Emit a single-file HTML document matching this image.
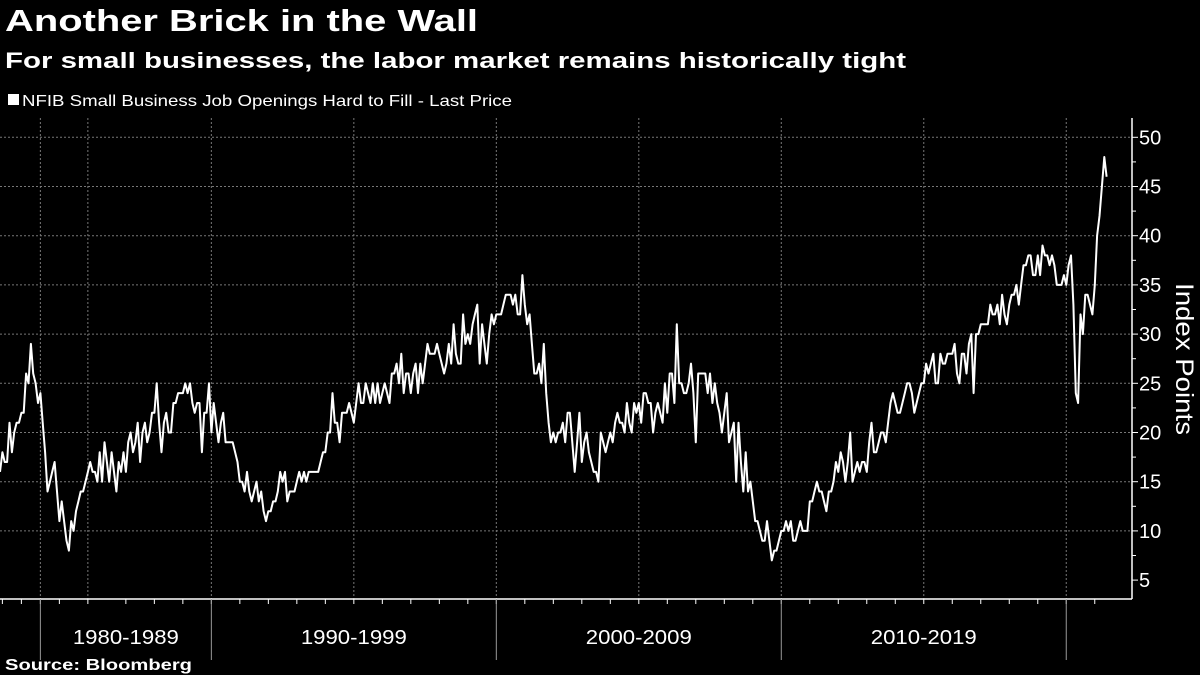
<!DOCTYPE html>
<html><head><meta charset="utf-8"><style>
body{margin:0;background:#000;width:1200px;height:675px;overflow:hidden;font-family:"Liberation Sans",sans-serif;color:#fff}
svg{display:block}
</style></head><body>
<svg id="chart" width="1200" height="675">
<text x="5" y="31" font-size="31" font-weight="bold" fill="#fff" textLength="473" lengthAdjust="spacingAndGlyphs">Another Brick in the Wall</text>
<text x="5" y="68" font-size="22" font-weight="bold" fill="#fff" textLength="901" lengthAdjust="spacingAndGlyphs">For small businesses, the labor market remains historically tight</text>
<rect x="8" y="94" width="11" height="11" fill="#fff"/>
<text x="22" y="106" font-size="16" fill="#fff" textLength="490" lengthAdjust="spacingAndGlyphs">NFIB Small Business Job Openings Hard to Fill - Last Price</text>
<g id="grid"></g><g id="axes"></g>
<path id="line" fill="none" stroke="#fff" stroke-width="2" stroke-linejoin="round"/>
<text transform="translate(1176,359) rotate(90)" text-anchor="middle" font-size="25" fill="#fff" textLength="152" lengthAdjust="spacingAndGlyphs">Index Points</text>
<text x="5" y="670" font-size="16" font-weight="bold" fill="#fff" textLength="187" lengthAdjust="spacingAndGlyphs">Source: Bloomberg</text>
</svg>
<script>
const values=[16,18,17,17,21,18,20,21,21,22,22,26,25,29,26,25,23,24,21,18,14,15,16,17,14,11,13,11,9,8,11,10,12,13,14,14,15,16,17,16,16,15,18,15,19,17,15,18,16,14,17,16,18,16,19,20,18,19,21,17,20,21,19,20,22,22,25,21,18,21,22,20,20,23,23,24,24,24,25,24,25,23,22,23,23,18,22,22,25,20,23,21,19,21,22,19,19,19,19,18,17,15,15,14,16,14,13,14,15,13,14,12,11,12,12,13,13,14,16,15,16,13,14,14,14,15,16,
15,16,15,16,16,16,16,16,17,18,18,20,20,24,21,21,19,22,22,22,23,22,21,23,25,23,23,25,24,23,25,23,25,23,24,25,24,23,26,26,27,25,28,24,26,26,24,26,27,24,27,25,27,29,28,28,28,29,28,27,26,27,29,27,31,28,27,27,32,29,30,29,31,32,33,27,31,29,27,30,32,31,32,32,32,33,34,34,34,33,34,32,32,36,33,31,32,29,26,26,27,25,29,24,21,19,20,19,20,20,21,19,22,22,19,16,19,22,17,19,20,18,
17,16,16,15,20,19,18,19,20,19,21,22,21,21,20,23,21,20,23,22,23,21,24,24,23,23,20,22,23,22,21,25,22,26,26,23,31,25,25,24,24,25,27,24,19,26,26,26,26,24,26,23,25,23,22,20,22,24,19,20,21,15,21,17,14,18,14,15,13,11,11,10,9,9,11,9,7,8,8,9,10,10,11,10,11,9,9,10,11,10,10,10,13,13,14,15,14,14,13,12,14,14,15,17,16,18,17,15,17,20,15,16,17,16,17,17,16,19,21,18,18,19,
20,20,19,21,23,24,23,22,22,23,24,25,25,24,22,23,24,25,25,27,26,27,28,25,25,28,27,27,28,28,28,29,26,25,28,28,26,29,30,24,30,30,31,31,31,31,33,32,32,33,31,34,32,31,33,34,34,35,33,35,37,37,38,38,36,36,38,36,39,38,38,37,38,37,35,35,35,36,35,37,38,33,24,23,32,30,34,34,33,32,35,40,42,45,48,46];
const yTicks=[5,10,15,20,25,30,35,40,45,50];
const decadeLabels=['1980-1989','1990-1999','2000-2009','2010-2019'];
const decadeIdx=[17,89,209,329,449];
const gridIdx=[17,37,89,149,209,269,329,389,449];
const yearTickIdx=[1,9,17,25,37,53,65,77,89,101,113,125,137,149,161,173,185,197,209,221,233,245,257,269,281,293,305,317,329,341,353,365,377,389,401,413,425,437,449,461];
const NS='http://www.w3.org/2000/svg';
const X0=0,X1=1109,PT=118,PB=599,AX=1132;
const xs=i=>X0+(X1-X0)*i/467;
const ys=v=>137.3+(50-v)*9.84;
const grid=document.getElementById('grid'),axes=document.getElementById('axes');
function mk(tag,attrs,parent){const e=document.createElementNS(NS,tag);for(const k in attrs)e.setAttribute(k,attrs[k]);parent.appendChild(e);return e;}
yTicks.forEach(v=>{
 if(v>5){const g=mk('line',{x1:0,x2:AX,y1:ys(v),y2:ys(v),stroke:'#777','stroke-dasharray':'2,2','stroke-width':1},grid);
 
 }
 const t=mk('line',{x1:AX,x2:AX+6,y1:ys(v),y2:ys(v),stroke:'#fff','stroke-width':1},axes);
 
 
 const l=mk('text',{x:AX+7,y:ys(v)+7,'font-size':20,fill:'#fff'},axes);
 l.textContent=v;
 
 
 if(v<50){const m=mk('line',{x1:AX,x2:AX+4,y1:ys(v+2.5),y2:ys(v+2.5),stroke:'#fff','stroke-width':1},axes);
 
 }
});
gridIdx.forEach(i=>{const g=mk('line',{x1:xs(i),x2:xs(i),y1:PT,y2:PB,stroke:'#777','stroke-dasharray':'2,2','stroke-width':1},grid);
 
 });
const ax=mk('line',{x1:AX,x2:AX,y1:PT,y2:PB,stroke:'#fff','stroke-width':1.5},axes);


const bx=mk('line',{x1:0,x2:AX,y1:PB,y2:PB,stroke:'#fff','stroke-width':1.5},axes);


yearTickIdx.forEach(i=>{const t=mk('line',{x1:xs(i),x2:xs(i),y1:PB,y2:PB+5,stroke:'#fff','stroke-width':1},axes);
 
 });
decadeIdx.forEach(i=>{const t=mk('line',{x1:xs(i),x2:xs(i),y1:PB,y2:660,stroke:'#999','stroke-width':1},axes);
 
 });
decadeLabels.forEach((s,k)=>{const l=mk('text',{x:(xs(decadeIdx[k])+xs(decadeIdx[k+1]))/2,y:644,'font-size':20,fill:'#fff','text-anchor':'middle',textLength:106,lengthAdjust:'spacingAndGlyphs'},axes);
 l.textContent=s;
 
 });
document.getElementById('line').setAttribute('d',values.map((v,i)=>(i?'L':'M')+xs(i).toFixed(1)+','+ys(v).toFixed(1)).join(''));
</script>
</body></html>
